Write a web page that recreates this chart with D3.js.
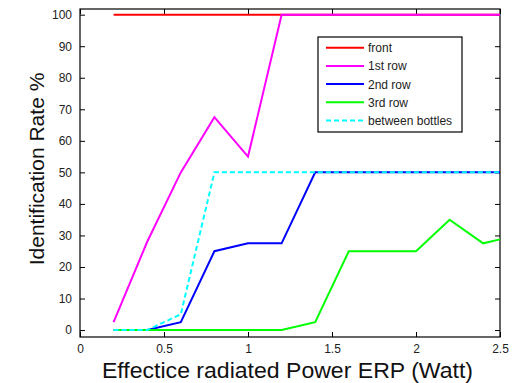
<!DOCTYPE html>
<html>
<head>
<meta charset="utf-8">
<script src="https://cdn.jsdelivr.net/npm/d3@7"></script>
<style>
body { margin: 0; background: #fff; }
text { font-family: "Liberation Sans", Arial, sans-serif; }
</style>
</head>
<body>
<svg id="chart" width="521" height="383"></svg>
<script>
var xs = [0.2, 0.4, 0.6, 0.8, 1.0, 1.2, 1.4, 1.6, 1.8, 2.0, 2.2, 2.4, 2.5];
var front = [100, 100, 100, 100, 100, 100, 100, 100, 100, 100, 100, 100, 100];
var row1 = [2.5, 28, 50, 67.5, 55, 100, 100, 100, 100, 100, 100, 100, 100];
var row2 = [0, 0, 2.5, 25, 27.5, 27.5, 50, 50, 50, 50, 50, 50, 50];
var row3 = [0, 0, 0, 0, 0, 0, 2.5, 25, 25, 25, 35, 27.5, 28.75];
var between = [0, 0, 5, 50, 50, 50, 50, 50, 50, 50, 50, 50, 50];
var seriesNames = ["front", "1st row", "2nd row", "3rd row", "between bottles"];
var xTicks = [0, 0.5, 1, 1.5, 2, 2.5];
var yTicks = [0, 10, 20, 30, 40, 50, 60, 70, 80, 90, 100];

var series = [
  {name: seriesNames[0], values: front, color: "#ff0000", dash: null},
  {name: seriesNames[1], values: row1, color: "#ff00ff", dash: null},
  {name: seriesNames[2], values: row2, color: "#0000ff", dash: null},
  {name: seriesNames[3], values: row3, color: "#00ff00", dash: null},
  {name: seriesNames[4], values: between, color: "#00ffff", dash: "5,3"}
];

var mLeft = 80, mRight = 500, mTop = 9, mBottom = 337;
var svg = d3.select("#chart");
var x = d3.scaleLinear().domain([0, 2.5]).range([mLeft, mRight]);
var y = d3.scaleLinear().domain([-2.2, 101.8]).range([mBottom, mTop]);

// axes, ticks pointing inward, mirrored on top/right
var fmt = function(d){ return d3.format("")(d); };
svg.append("g").attr("transform", "translate(0," + mBottom + ")")
  .call(d3.axisBottom(x).tickValues(xTicks).tickSize(-5).tickSizeOuter(0).tickPadding(7).tickFormat(fmt));
svg.append("g").attr("transform", "translate(0," + mTop + ")")
  .call(d3.axisTop(x).tickValues(xTicks).tickSize(-5).tickSizeOuter(0).tickFormat(""));
svg.append("g").attr("transform", "translate(" + mLeft + ",0)")
  .call(d3.axisLeft(y).tickValues(yTicks).tickSize(-5).tickSizeOuter(0).tickPadding(8));
svg.append("g").attr("transform", "translate(" + mRight + ",0)")
  .call(d3.axisRight(y).tickValues(yTicks).tickSize(-5).tickSizeOuter(0).tickFormat(""));

svg.selectAll(".domain").remove();
svg.selectAll(".tick line").attr("stroke", "#000");
svg.selectAll(".tick text").attr("font-size", 12).attr("fill", "#222")
  .attr("font-family", "Liberation Sans, Arial, sans-serif");

svg.append("rect").attr("x", mLeft).attr("y", mTop).attr("width", mRight - mLeft).attr("height", mBottom - mTop)
  .attr("fill", "none").attr("stroke", "#000").attr("stroke-width", 1.2);

var line = d3.line().x(function(d){ return x(d[0]); }).y(function(d){ return y(d[1]); });

series.forEach(function(s){
  svg.append("path")
    .datum(xs.map(function(v, i){ return [v, s.values[i]]; }))
    .attr("d", line).attr("fill", "none")
    .attr("stroke", s.color).attr("stroke-width", 2)
    .attr("stroke-dasharray", s.dash);
});

// legend
var lg = svg.append("g");
lg.append("rect").attr("x", 318).attr("y", 37).attr("width", 144).attr("height", 95)
  .attr("fill", "#fff").attr("stroke", "#000").attr("stroke-width", 1.2);
series.forEach(function(s, i){
  var ly = 47.7 + i * 18.2;
  lg.append("line").attr("x1", 326).attr("x2", 364).attr("y1", ly).attr("y2", ly)
    .attr("stroke", s.color).attr("stroke-width", 2).attr("stroke-dasharray", s.dash);
  lg.append("text").attr("x", 368).attr("y", ly + 4.5).attr("font-size", 12).attr("fill", "#222").text(s.name);
});

// axis titles
svg.append("text").attr("x", 287.5).attr("y", 378).attr("text-anchor", "middle")
  .attr("font-size", 21.5).attr("fill", "#111")
  .attr("textLength", 371).attr("lengthAdjust", "spacingAndGlyphs")
  .text("Effectice radiated Power ERP (Watt)");
svg.append("text").attr("transform", "translate(44,169) rotate(-90)")
  .attr("text-anchor", "middle").attr("font-size", 21).attr("fill", "#111").text("Identification Rate %");
</script>
</body>
</html>
